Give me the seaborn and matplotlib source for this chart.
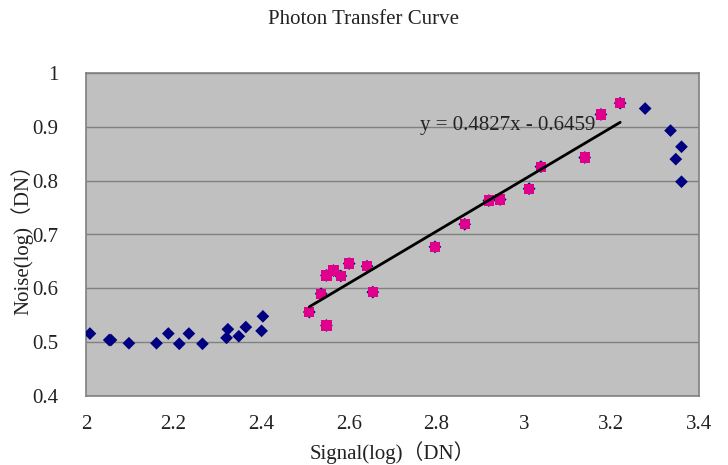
import matplotlib
matplotlib.use("Agg")
import matplotlib.pyplot as plt
import seaborn as sns
import pandas as pd
import numpy as np

# All measured points (blue diamonds)
signal_all = [2.009, 2.053, 2.057, 2.098, 2.161, 2.188, 2.213, 2.235, 2.266,
              2.321, 2.324, 2.349, 2.365, 2.401, 2.404,
              2.510, 2.537, 2.549, 2.549, 2.565, 2.582, 2.601, 2.642, 2.655,
              2.797, 2.865, 2.920, 2.946, 3.012, 3.039, 3.139, 3.176, 3.220,
              3.277, 3.335, 3.360, 3.347, 3.360]
noise_all = [0.516, 0.504, 0.504, 0.498, 0.498, 0.516, 0.497, 0.516, 0.497,
             0.508, 0.524, 0.511, 0.528, 0.521, 0.548,
             0.556, 0.590, 0.624, 0.531, 0.633, 0.623, 0.646, 0.641, 0.593,
             0.677, 0.719, 0.763, 0.765, 0.785, 0.826, 0.843, 0.923, 0.944,
             0.934, 0.893, 0.863, 0.840, 0.798]

# Points used for the linear fit (pink squares)
signal_fit = [2.510, 2.537, 2.549, 2.549, 2.565, 2.582, 2.601, 2.642, 2.655,
              2.797, 2.865, 2.920, 2.946, 3.012, 3.039, 3.139, 3.176, 3.220]
noise_fit = [0.556, 0.590, 0.624, 0.531, 0.633, 0.623, 0.646, 0.641, 0.593,
             0.677, 0.719, 0.763, 0.765, 0.785, 0.826, 0.843, 0.923, 0.944]

slope = 0.4827
intercept = -0.6459

x_ticks = [2, 2.2, 2.4, 2.6, 2.8, 3, 3.2, 3.4]
y_ticks = [0.4, 0.5, 0.6, 0.7, 0.8, 0.9, 1]

sns.set_style("white")
plt.rcParams['font.family'] = ['Liberation Serif', 'Noto Sans CJK SC', 'DejaVu Sans']

FS = 15
TXT = '#222222'

fig = plt.figure(figsize=(7.28, 4.65), dpi=100)
ax = fig.add_axes([86/728, 69/465, 613/728, 323/465])
ax.set_facecolor('#C0C0C0')

df_all = pd.DataFrame({'signal': signal_all, 'noise': noise_all})
df_fit = pd.DataFrame({'signal': signal_fit, 'noise': noise_fit})

sns.scatterplot(data=df_all, x='signal', y='noise', marker='D', s=42,
                color='#000080', edgecolor='none', ax=ax, zorder=3)
sns.scatterplot(data=df_fit, x='signal', y='noise', marker='s', s=55,
                color='#E0008C', edgecolor='none', ax=ax, zorder=4)

xl = np.array([min(signal_fit), max(signal_fit)])
sns.lineplot(x=xl, y=slope * xl + intercept, color='black', linewidth=2,
             ax=ax, zorder=5)

ax.text(2.762, 0.903, 'y = 0.4827x - 0.6459', fontsize=FS, color=TXT,
        va='center', ha='left', zorder=6)

ax.set_xlim(2, 3.4)
ax.set_ylim(0.4, 1.0)
ax.set_xticks(x_ticks)
ax.set_yticks(y_ticks)
ax.set_xticklabels([f'{t:g}' for t in x_ticks], fontsize=FS, color=TXT)
ax.set_yticklabels([f'{t:g}' for t in y_ticks], fontsize=FS, color=TXT)
ax.yaxis.grid(True, color='#808080', linewidth=1)
ax.xaxis.grid(False)
ax.set_axisbelow(True)
ax.tick_params(axis='x', direction='in', length=5, color='#808080', pad=14)
ax.tick_params(axis='y', direction='out', length=0, pad=20)
for sp in ax.spines.values():
    sp.set_color('#808080')
    sp.set_linewidth(1.2)

ax.set_xlabel('Signal(log)（DN）', fontsize=FS, color=TXT)
ax.xaxis.set_label_coords(0.5, -(453 - 396) / 323)
ax.xaxis.label.set_va('center')
ax.set_ylabel('Noise(log)（DN）', fontsize=FS, color=TXT)
ax.yaxis.set_label_coords(-(86 - 22) / 613, 0.5)
ax.yaxis.label.set_va('center')
fig.text(364 / 728, 1 - 20 / 465, 'Photon Transfer Curve', ha='center',
         va='center', fontsize=FS, color=TXT)

fig.savefig('out.png', dpi=100)
